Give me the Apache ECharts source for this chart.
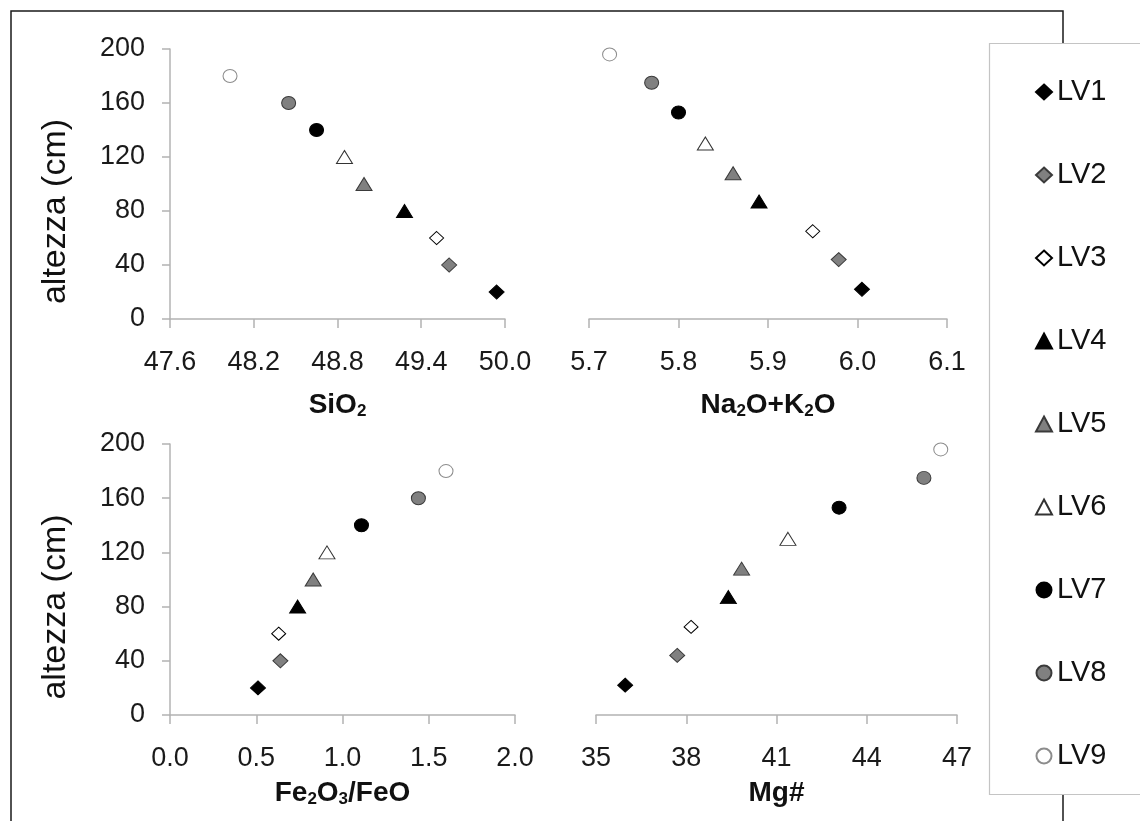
<!DOCTYPE html>
<html>
<head>
<meta charset="utf-8">
<title>altezza vs composizione</title>
<script src="https://cdn.jsdelivr.net/npm/echarts@6/dist/echarts.min.js"></script>
<style>
  html, body { margin: 0; padding: 0; background: #fff; }
  #chart { width: 1140px; height: 821px; }
</style>
</head>
<body>
<div id="chart"></div>
<script>
  // campioni
  var names = ['LV1', 'LV2', 'LV3', 'LV4', 'LV5', 'LV6', 'LV7', 'LV8', 'LV9'];
  // altezza (cm)
  var heightLeft = [20, 40, 60, 80, 100, 120, 140, 160, 180];
  var heightRight = [22, 44, 65, 87, 108, 130, 153, 175, 196];
  // valori
  var sio2 = [49.94, 49.60, 49.51, 49.28, 48.99, 48.85, 48.65, 48.45, 48.03];
  var naK = [6.005, 5.979, 5.950, 5.890, 5.861, 5.830, 5.800, 5.770, 5.723];
  var feRatio = [0.51, 0.64, 0.63, 0.74, 0.83, 0.91, 1.11, 1.44, 1.60];
  var mgNum = [35.97, 37.70, 38.16, 39.40, 39.84, 41.38, 43.08, 45.90, 46.46];
  // tick labels
  var sio2Ticks = [47.6, 48.2, 48.8, 49.4, 50.0];
  var naKTicks = [5.7, 5.8, 5.9, 6.0, 6.1];
  var feTicks = [0.0, 0.5, 1.0, 1.5, 2.0];
  var mgTicks = [35, 38, 41, 44, 47];

  var FONT = "'Liberation Sans', Arial, sans-serif";

  var markers = [
    { symbol: 'diamond', size: [15, 14], color: '#000000', border: '#000000' },
    { symbol: 'diamond', size: [15, 14], color: '#808080', border: '#3a3a3a' },
    { symbol: 'diamond', size: [14, 13], color: '#ffffff', border: '#000000' },
    { symbol: 'triangle', size: [16, 13], color: '#000000', border: '#000000' },
    { symbol: 'triangle', size: [16, 13], color: '#808080', border: '#3a3a3a' },
    { symbol: 'triangle', size: [16, 13], color: '#ffffff', border: '#333333' },
    { symbol: 'circle', size: [14, 13], color: '#000000', border: '#000000' },
    { symbol: 'circle', size: [14, 13], color: '#808080', border: '#3a3a3a' },
    { symbol: 'circle', size: [14, 13], color: '#ffffff', border: '#8c8c8c' }
  ];

  var panels = [
    { x: sio2, y: heightLeft },
    { x: naK, y: heightRight },
    { x: feRatio, y: heightLeft },
    { x: mgNum, y: heightRight }
  ];

  var nameRich = {
    b: { fontSize: 28, fontWeight: 'bold', color: '#111', lineHeight: 30, fontFamily: FONT },
    s: { fontSize: 17, fontWeight: 'bold', color: '#111', lineHeight: 14, verticalAlign: 'bottom', fontFamily: FONT }
  };

  function xAxisFor(idx, min, max, ticks, name, gap, digits) {
    return {
      gridIndex: idx,
      type: 'value',
      min: min,
      max: max,
      name: name,
      nameLocation: 'middle',
      nameGap: gap,
      nameTextStyle: { rich: nameRich },
      axisLine: { show: true, lineStyle: { color: '#b3b3b3', width: 1.5 } },
      axisTick: { show: true, length: 9, customValues: ticks, lineStyle: { color: '#b3b3b3', width: 1.5 } },
      axisLabel: {
        customValues: ticks,
        margin: 30,
        fontSize: 27,
        color: '#1a1a1a',
        fontFamily: FONT,
        formatter: function (v) { return digits ? Number(v).toFixed(digits) : String(Math.round(v)); }
      },
      splitLine: { show: false }
    };
  }

  function yAxisFor(idx, visible) {
    return {
      gridIndex: idx,
      type: 'value',
      show: visible,
      min: 0,
      max: 200,
      interval: 40,
      name: 'altezza (cm)',
      nameLocation: 'middle',
      nameGap: 97,
      nameTextStyle: { fontSize: 34, color: '#111', fontFamily: FONT, padding: [0, 55, 0, 0] },
      axisLine: { show: true, lineStyle: { color: '#b3b3b3', width: 1.5 } },
      axisTick: { show: true, length: 8, lineStyle: { color: '#b3b3b3', width: 1.5 } },
      axisLabel: { margin: 25, fontSize: 27, color: '#1a1a1a', fontFamily: FONT },
      splitLine: { show: false }
    };
  }

  var series = [];
  panels.forEach(function (p, pi) {
    names.forEach(function (n, i) {
      var m = markers[i];
      series.push({
        type: 'scatter',
        name: n,
        xAxisIndex: pi,
        yAxisIndex: pi,
        symbol: m.symbol,
        symbolSize: m.size,
        itemStyle: { color: m.color, borderColor: m.border, borderWidth: 1, opacity: 1 },
        emphasis: { disabled: true },
        data: [[p.x[i], p.y[i]]]
      });
    });
  });

  var chart = echarts.init(document.getElementById('chart'));
  chart.setOption({
    backgroundColor: '#ffffff',
    animation: false,
    textStyle: { fontFamily: FONT },
    grid: [
      { left: 170, top: 49, width: 335, height: 270 },
      { left: 589, top: 49, width: 358, height: 270 },
      { left: 170, top: 444, width: 345, height: 271 },
      { left: 596, top: 444, width: 361, height: 271 }
    ],
    xAxis: [
      xAxisFor(0, 47.6, 50.0, sio2Ticks, '{b|SiO}{s|2}', 71, 1),
      xAxisFor(1, 5.7, 6.1, naKTicks, '{b|Na}{s|2}{b|O+K}{s|2}{b|O}', 71, 1),
      xAxisFor(2, 0, 2, feTicks, '{b|Fe}{s|2}{b|O}{s|3}{b|/FeO}', 63, 1),
      xAxisFor(3, 35, 47, mgTicks, '{b|Mg#}', 63, 0)
    ],
    yAxis: [
      yAxisFor(0, true),
      yAxisFor(1, false),
      yAxisFor(2, true),
      yAxisFor(3, false)
    ],
    legend: {
      data: names,
      orient: 'vertical',
      left: 1030,
      top: 72,
      itemWidth: 16,
      itemHeight: 15,
      itemGap: 53,
      itemTextGap: 9,
      selectedMode: false,
      textStyle: { fontSize: 29, lineHeight: 30, color: '#111', fontFamily: FONT }
    },
    graphic: [
      {
        type: 'rect',
        silent: true,
        z: 0,
        shape: { x: 11, y: 11, width: 1052, height: 900 },
        style: { fill: 'none', stroke: '#1a1a1a', lineWidth: 1.5 }
      },
      {
        type: 'rect',
        silent: true,
        z: 1,
        shape: { x: 989.5, y: 43.5, width: 300, height: 751 },
        style: { fill: '#ffffff', stroke: '#c4c4c4', lineWidth: 1.2 }
      }
    ],
    series: series
  });
</script>
</body>
</html>
